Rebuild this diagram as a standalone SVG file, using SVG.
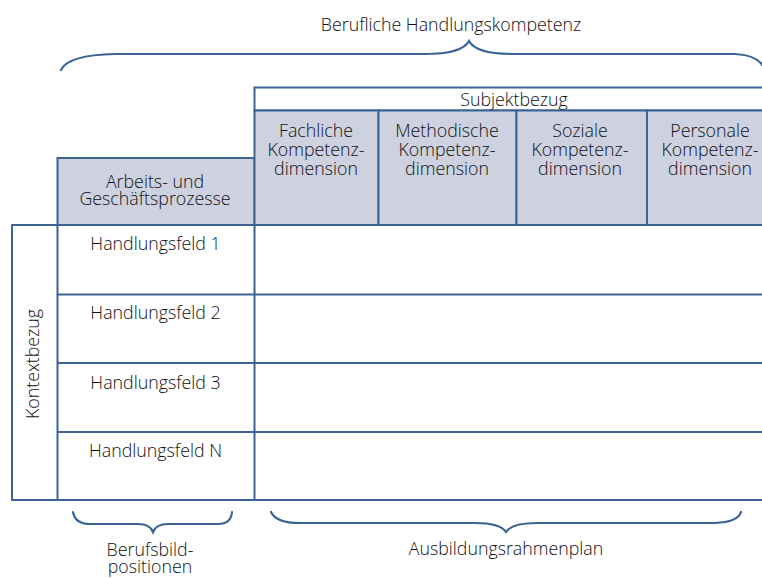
<svg xmlns="http://www.w3.org/2000/svg" width="762" height="578" viewBox="0 0 762 578">
<style>
.ln{stroke:#3a6494;stroke-width:2;fill:none}
.hd{fill:#cdd1e0;stroke:#3a6494;stroke-width:2}
.bx{fill:#ffffff;stroke:#3a6494;stroke-width:2}
.br{stroke:#3a6494;stroke-width:2.2;fill:none;stroke-linecap:round}
text{font-family:"Open Sans","Liberation Sans",sans-serif;font-weight:300;font-size:17.8px;fill:#111111;text-anchor:middle}
</style>
<rect width="762" height="578" fill="#ffffff"/>
<text x="451" y="31">Berufliche Handlungskompetenz</text>
<path class="br" d="M61,70 Q68,55 115,54 L425,54 Q462,54 469,41 Q476,54 513,54 L735,54 Q758,55 764,68"/>
<g id="kontext">
<rect class="bx" x="12" y="225" width="760" height="275"/>
<text transform="translate(39,364) rotate(-90)">Kontextbezug</text>
</g>
<g id="subjektbezug">
<rect class="bx" x="254.5" y="87.5" width="520" height="23"/>
<text x="514" y="106">Subjektbezug</text>
</g>
<g id="arbeits">
<rect class="hd" x="57.5" y="158" width="197" height="67"/>
<text x="155" y="188">Arbeits- und</text>
<text x="155" y="205">Geschäftsprozesse</text>
</g>
<g id="fachliche">
<rect class="hd" x="254.5" y="110.5" width="124" height="114.5"/>
<text x="316" y="137">Fachliche</text>
<text x="316" y="156">Kompetenz-</text>
<text x="316" y="175">dimension</text>
</g>
<g id="methodische">
<rect class="hd" x="378.5" y="110.5" width="138" height="114.5"/>
<text x="447" y="137">Methodische</text>
<text x="447" y="156">Kompetenz-</text>
<text x="447" y="175">dimension</text>
</g>
<g id="soziale">
<rect class="hd" x="516.5" y="110.5" width="130.5" height="114.5"/>
<text x="580" y="137">Soziale</text>
<text x="580" y="156">Kompetenz-</text>
<text x="580" y="175">dimension</text>
</g>
<g id="personale">
<rect class="hd" x="647" y="110.5" width="130" height="114.5"/>
<text x="710" y="137">Personale</text>
<text x="710" y="156">Kompetenz-</text>
<text x="710" y="175">dimension</text>
</g>
<g id="grid">
<line class="ln" x1="57.5" y1="225" x2="57.5" y2="500"/>
<line class="ln" x1="254.5" y1="225" x2="254.5" y2="500"/>
<line class="ln" x1="57.5" y1="294.5" x2="762" y2="294.5"/>
<line class="ln" x1="57.5" y1="363" x2="762" y2="363"/>
<line class="ln" x1="57.5" y1="432" x2="762" y2="432"/>
</g>
<g id="hf1"><text x="155.5" y="250">Handlungsfeld 1</text></g>
<g id="hf2"><text x="155.5" y="319">Handlungsfeld 2</text></g>
<g id="hf3"><text x="155.5" y="389">Handlungsfeld 3</text></g>
<g id="hfn"><text x="155.5" y="457">Handlungsfeld N</text></g>
<g id="braces">
<path class="br" d="M73,512 Q75,524 90,524 L138,524 Q150,524 153,532 Q156,524 168,524 L218,524 Q231,524 232,512"/>
<path class="br" d="M271,512 Q276,523 300,523 L475,523 Q500,523 506,532 Q512,523 537,523 L715,523 Q738,522 741,512"/>
</g>
<text x="150" y="556">Berufsbild-</text>
<text x="150" y="573">positionen</text>
<text x="506" y="555">Ausbildungsrahmenplan</text>
</svg>
